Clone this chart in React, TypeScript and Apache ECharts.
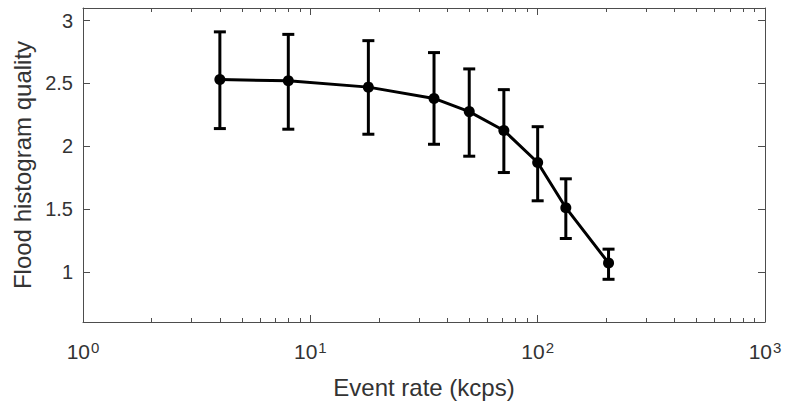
import React, { useEffect, useRef } from "react";
import * as echarts from "echarts";

const rates = [4, 8, 18, 35, 50, 71, 100, 133, 205];
const quality = [2.53, 2.52, 2.47, 2.38, 2.275, 2.125, 1.87, 1.51, 1.07];
const upper = [2.91, 2.89, 2.84, 2.745, 2.615, 2.45, 2.155, 1.74, 1.18];
const lower = [2.14, 2.135, 2.095, 2.015, 1.92, 1.79, 1.565, 1.265, 0.94];

const xMajorTicks = [1, 10, 100, 1000];
const xMinorTicks = [
  2, 3, 4, 5, 6, 7, 8, 9,
  20, 30, 40, 50, 60, 70, 80, 90,
  200, 300, 400, 500, 600, 700, 800, 900,
];
const yTicks = [1, 1.5, 2, 2.5, 3];

const AXIS_COLOR = "#4d4d4d";
const TEXT_COLOR = "#333333";
const FONT = "'Liberation Sans', Arial, Helvetica, sans-serif";

export default function App() {
  const ref = useRef<HTMLDivElement>(null);

  useEffect(() => {
    if (!ref.current) return;
    const chart = echarts.init(ref.current, null, { renderer: "svg" });

    const lineStyleAxis = { show: true, lineStyle: { color: AXIS_COLOR, width: 1 } };

    const baseX = {
      type: "log" as const,
      logBase: 10,
      min: 1,
      max: 1000,
      gridIndex: 0,
      splitLine: { show: false },
      minorTick: { show: false },
    };
    const baseY = {
      type: "value" as const,
      min: 0.6,
      max: 3.1,
      gridIndex: 0,
      splitLine: { show: false },
    };

    const option: any = {
      animation: false,
      backgroundColor: "#ffffff",
      textStyle: { fontFamily: FONT },
      grid: {
        left: 83,
        right: 23,
        top: 8,
        bottom: 85,
        containLabel: false,
        outerBoundsMode: "none",
      },
      xAxis: [
        {
          ...baseX,
          position: "bottom",
          axisLine: lineStyleAxis,
          axisTick: {
            show: true,
            inside: true,
            length: 7,
            customValues: xMajorTicks,
            lineStyle: { color: AXIS_COLOR },
          },
          axisLabel: {
            show: true,
            customValues: xMajorTicks,
            margin: 18,
            color: TEXT_COLOR,
            formatter: (v: number) => `{b|10}{s|${Math.round(Math.log10(v))}}`,
            rich: {
              b: { fontSize: 21, color: TEXT_COLOR, fontFamily: FONT },
              s: {
                fontSize: 15,
                color: TEXT_COLOR,
                fontFamily: FONT,
                padding: [0, 0, 8, 1],
              },
            },
          },
          name: "Event rate (kcps)",
          nameLocation: "middle",
          nameGap: 53,
          nameTextStyle: { fontSize: 24, color: TEXT_COLOR, fontFamily: FONT },
        },
        {
          ...baseX,
          position: "bottom",
          axisLine: { show: false },
          axisTick: {
            show: true,
            inside: true,
            length: 4,
            customValues: xMinorTicks,
            lineStyle: { color: AXIS_COLOR },
          },
          axisLabel: { show: false },
        },
        {
          ...baseX,
          position: "top",
          axisLine: lineStyleAxis,
          axisTick: {
            show: true,
            inside: true,
            length: 7,
            customValues: xMajorTicks,
            lineStyle: { color: AXIS_COLOR },
          },
          axisLabel: { show: false },
        },
        {
          ...baseX,
          position: "top",
          axisLine: { show: false },
          axisTick: {
            show: true,
            inside: true,
            length: 4,
            customValues: xMinorTicks,
            lineStyle: { color: AXIS_COLOR },
          },
          axisLabel: { show: false },
        },
      ],
      yAxis: [
        {
          ...baseY,
          position: "left",
          axisLine: lineStyleAxis,
          axisTick: {
            show: true,
            inside: true,
            length: 7,
            customValues: yTicks,
            lineStyle: { color: AXIS_COLOR },
          },
          axisLabel: {
            show: true,
            customValues: yTicks,
            margin: 10,
            fontSize: 20,
            color: TEXT_COLOR,
            fontFamily: FONT,
          },
          name: "Flood histogram quality",
          nameLocation: "middle",
          nameGap: 45,
          nameTextStyle: { fontSize: 24, color: TEXT_COLOR, fontFamily: FONT },
        },
        {
          ...baseY,
          position: "right",
          axisLine: lineStyleAxis,
          axisTick: {
            show: true,
            inside: true,
            length: 7,
            customValues: yTicks,
            lineStyle: { color: AXIS_COLOR },
          },
          axisLabel: { show: false },
        },
      ],
      series: [
        {
          type: "custom",
          xAxisIndex: 0,
          yAxisIndex: 0,
          data: rates.map((r, i) => [r, lower[i], upper[i]]),
          encode: { x: 0, y: [1, 2] },
          renderItem: (_params: any, api: any) => {
            const x = api.value(0);
            const lo = api.coord([x, api.value(1)]);
            const hi = api.coord([x, api.value(2)]);
            const hw = 6;
            const style = { stroke: "#000000", lineWidth: 3 };
            return {
              type: "group",
              children: [
                { type: "line", shape: { x1: lo[0], y1: lo[1], x2: hi[0], y2: hi[1] }, style },
                { type: "line", shape: { x1: lo[0] - hw, y1: lo[1], x2: lo[0] + hw, y2: lo[1] }, style },
                { type: "line", shape: { x1: hi[0] - hw, y1: hi[1], x2: hi[0] + hw, y2: hi[1] }, style },
              ],
            };
          },
          z: 2,
        },
        {
          type: "line",
          xAxisIndex: 0,
          yAxisIndex: 0,
          data: rates.map((r, i) => [r, quality[i]]),
          symbol: "circle",
          symbolSize: 11,
          showSymbol: true,
          lineStyle: { color: "#000000", width: 3 },
          itemStyle: { color: "#000000" },
          z: 3,
        },
      ],
    };

    chart.setOption(option);
    return () => chart.dispose();
  }, []);

  return (
    <div
      ref={ref}
      style={{ position: "fixed", left: 0, top: 0, width: 788, height: 407, background: "#fff" }}
    />
  );
}
